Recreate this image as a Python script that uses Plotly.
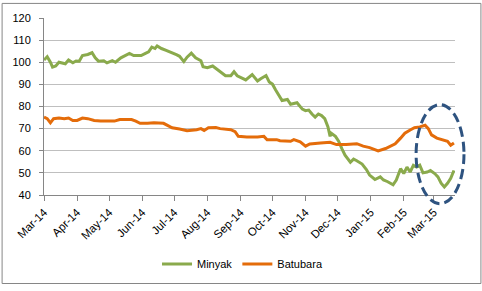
import plotly.graph_objects as go

minyak_dates = [
    "2014-03-01", "2014-03-04", "2014-03-07", "2014-03-09", "2014-03-12", "2014-03-15",
    "2014-03-21", "2014-03-24", "2014-03-28", "2014-03-31", "2014-04-03", "2014-04-06",
    "2014-04-11", "2014-04-15", "2014-04-18", "2014-04-21", "2014-04-26", "2014-04-29",
    "2014-05-04", "2014-05-07", "2014-05-12", "2014-05-16", "2014-05-20", "2014-05-24",
    "2014-05-31", "2014-06-04", "2014-06-07", "2014-06-10", "2014-06-13", "2014-06-15",
    "2014-06-19", "2014-06-24", "2014-06-29", "2014-07-03", "2014-07-06", "2014-07-10",
    "2014-07-13", "2014-07-17", "2014-07-21", "2014-07-26", "2014-07-28", "2014-08-01",
    "2014-08-06", "2014-08-10", "2014-08-13", "2014-08-18", "2014-08-23", "2014-08-26",
    "2014-08-29", "2014-09-01", "2014-09-06", "2014-09-12", "2014-09-17", "2014-09-20",
    "2014-09-25", "2014-09-28", "2014-10-01", "2014-10-04", "2014-10-07", "2014-10-10",
    "2014-10-15", "2014-10-18", "2014-10-24", "2014-10-29", "2014-11-01", "2014-11-04",
    "2014-11-07", "2014-11-10", "2014-11-13", "2014-11-16", "2014-11-19", "2014-11-22",
    "2014-11-24", "2014-11-25", "2014-11-29", "2014-12-02", "2014-12-05", "2014-12-08",
    "2014-12-13", "2014-12-16", "2014-12-19", "2014-12-24", "2014-12-28", "2014-12-31",
    "2015-01-05", "2015-01-10", "2015-01-13", "2015-01-17", "2015-01-22", "2015-01-25",
    "2015-01-29", "2015-02-01", "2015-02-04", "2015-02-07", "2015-02-10", "2015-02-13",
    "2015-02-16", "2015-02-19", "2015-02-23", "2015-02-26", "2015-03-02", "2015-03-05",
    "2015-03-08", "2015-03-11", "2015-03-14", "2015-03-17", "2015-03-20",
]
minyak_values = [
    101.0, 102.5, 100.0, 97.8, 98.3, 100.0,
    99.3, 101.0, 99.8, 100.6, 100.5, 103.0,
    103.5, 104.3, 102.0, 100.5, 100.7, 99.7,
    100.7, 100.0, 102.0, 103.0, 104.0, 103.0,
    103.0, 104.0, 104.7, 106.8, 106.2, 107.4,
    106.2, 105.3, 104.4, 103.4, 102.7, 100.3,
    102.3, 104.1, 102.0, 100.7, 98.0, 97.5,
    98.3, 96.8, 95.8, 93.9, 93.9, 95.7,
    93.9, 93.2, 92.0, 94.4, 91.5, 92.5,
    94.0, 91.1, 90.1, 87.5, 85.3, 82.7,
    83.2, 81.0, 81.7, 78.8, 78.1, 78.4,
    76.6, 75.2, 76.6, 75.9, 74.5, 70.8,
    66.5, 67.9, 66.5, 64.3, 61.0, 58.0,
    54.8, 56.2, 55.5, 54.0, 51.5, 49.0,
    47.0, 48.2, 46.8, 46.0, 44.6, 46.8,
    51.9, 49.7, 52.6, 50.4, 53.4, 52.6,
    53.5, 50.0, 50.4, 51.1, 49.7, 48.2,
    45.3, 43.6, 45.3, 47.5, 51.1,
]

batubara_dates = [
    "2014-03-01", "2014-03-04", "2014-03-07", "2014-03-10", "2014-03-15", "2014-03-20",
    "2014-03-24", "2014-03-28", "2014-04-01", "2014-04-06", "2014-04-11", "2014-04-17",
    "2014-04-23", "2014-05-06", "2014-05-11", "2014-05-22", "2014-05-26", "2014-05-30",
    "2014-06-06", "2014-06-12", "2014-06-21", "2014-06-26", "2014-06-29", "2014-07-06",
    "2014-07-13", "2014-07-22", "2014-07-26", "2014-07-29", "2014-08-02", "2014-08-09",
    "2014-08-13", "2014-08-23", "2014-08-27", "2014-08-30", "2014-09-07", "2014-09-17",
    "2014-09-23", "2014-09-26", "2014-10-05", "2014-10-08", "2014-10-18", "2014-10-21",
    "2014-10-27", "2014-11-01", "2014-11-05", "2014-11-15", "2014-11-24", "2014-11-30",
    "2014-12-09", "2014-12-19", "2014-12-25", "2014-12-31", "2015-01-08", "2015-01-15",
    "2015-01-19", "2015-01-24", "2015-01-29", "2015-02-02", "2015-02-07", "2015-02-11",
    "2015-02-16", "2015-02-21", "2015-02-24", "2015-02-27", "2015-03-04", "2015-03-10",
    "2015-03-14", "2015-03-17", "2015-03-20",
]
batubara_values = [
    75.2, 74.5, 72.6, 74.5, 74.8, 74.5,
    74.8, 73.7, 73.7, 74.8, 74.5, 73.7,
    73.4, 73.4, 74.1, 74.1, 73.4, 72.4,
    72.4, 72.7, 72.4, 71.3, 70.4, 69.8,
    69.1, 69.5, 70.0, 69.2, 70.4, 70.5,
    70.0, 69.5, 68.6, 66.5, 66.2, 66.2,
    66.5, 65.0, 65.0, 64.5, 64.3, 65.0,
    64.0, 62.1, 63.1, 63.5, 63.8, 62.8,
    62.8, 63.2, 62.1, 61.4, 59.9, 61.0,
    62.1, 63.1, 65.7, 67.9, 69.4, 70.4,
    70.8, 71.5, 70.0, 67.2, 65.7, 65.0,
    64.3, 62.5, 63.5,
]

y_ticks = [40, 50, 60, 70, 80, 90, 100, 110, 120]

FONT = "Liberation Sans"

fig = go.Figure()
fig.add_trace(go.Scatter(x=minyak_dates, y=minyak_values, name="Minyak", mode="lines",
                         line=dict(color="#8AAA4C", width=3)))
fig.add_trace(go.Scatter(x=batubara_dates, y=batubara_values, name="Batubara", mode="lines",
                         line=dict(color="#E46C0A", width=3)))

L, R, T, B = 43, 27, 16, 93
W, H = 482, 291
pw, ph = W - L - R, H - T - B

def px(x):
    return (x - L) / pw

def py(y):
    return (H - B - y) / ph

fig.update_layout(
    width=W, height=H,
    margin=dict(l=L, r=R, t=T, b=B),
    paper_bgcolor="white", plot_bgcolor="white",
    font=dict(family=FONT, size=11, color="#000000"),
    showlegend=True,
    legend=dict(orientation="h", x=px(242), y=py(269), xanchor="center", yanchor="middle",
                font=dict(size=11), itemwidth=30, bgcolor="rgba(0,0,0,0)"),
    xaxis=dict(type="date", range=["2014-03-01", "2015-03-21"], dtick="M1",
               tick0="2014-03-01", tickformat="%b-%y", tickangle=-45,
               ticks="outside", ticklen=5, tickcolor="#868686",
               showline=True, linecolor="#868686", linewidth=1,
               showgrid=False, zeroline=False, tickfont=dict(size=11.5)),
    yaxis=dict(range=[40, 120], tickvals=y_ticks, ticks="outside", ticklen=4,
               tickcolor="#868686", showline=True, linecolor="#868686", linewidth=1,
               showgrid=True, gridcolor="#BFBFBF", gridwidth=1, zeroline=False,
               ticklabelstandoff=6, tickfont=dict(size=11)),
    shapes=[
        dict(type="rect", xref="paper", yref="paper",
             x0=px(1), x1=px(481), y0=py(289), y1=py(1),
             line=dict(color="#868686", width=1), fillcolor="rgba(0,0,0,0)", layer="below"),
        dict(type="circle", xref="paper", yref="paper",
             x0=px(416), x1=px(464), y0=py(207), y1=py(105),
             line=dict(color="#2E5380", width=3, dash="10px,5px"),
             fillcolor="rgba(0,0,0,0)", layer="above"),
    ],
)

fig.write_html("out.html")
